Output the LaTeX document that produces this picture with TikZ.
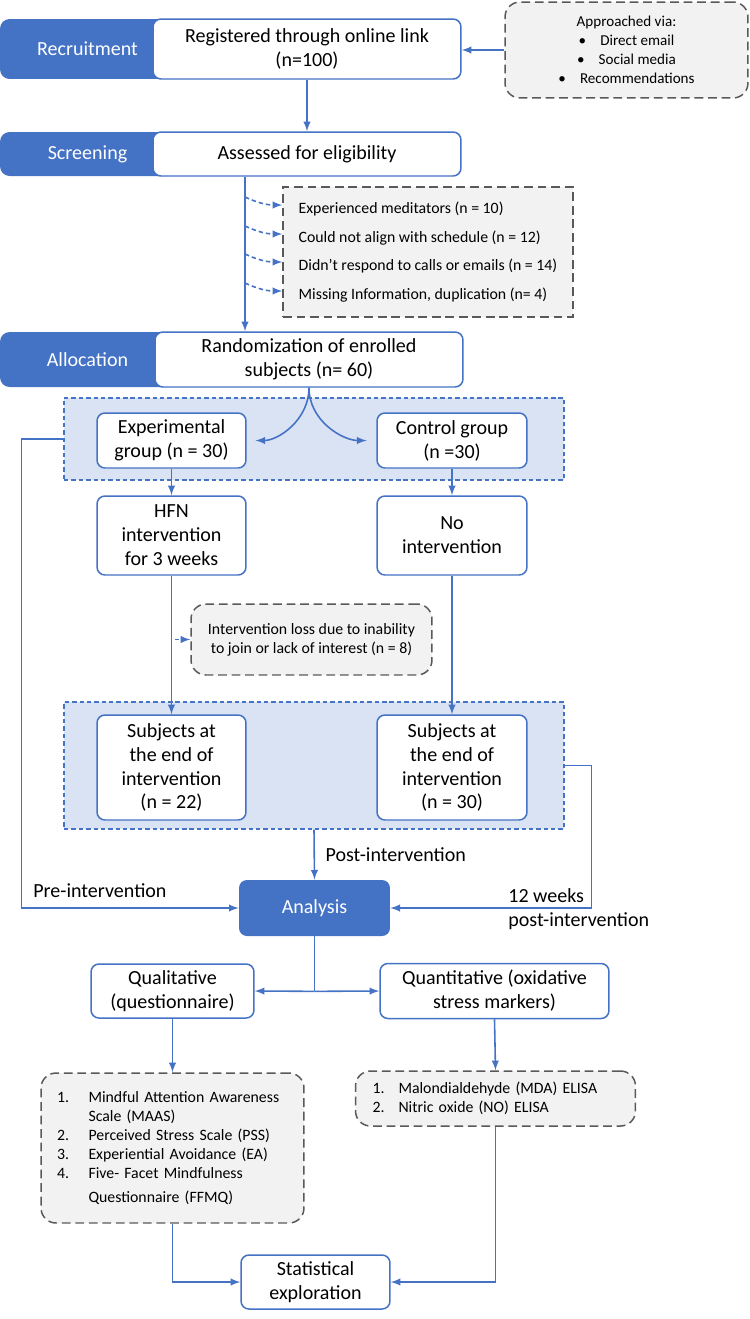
\documentclass[tikz,border=0pt]{standalone}
\usepackage{fontspec}
\setmainfont{Carlito}
\usepackage{xcolor}
\usepackage{tikz}
\usetikzlibrary{calc}

\definecolor{stageblue}{HTML}{4472C4}
\definecolor{groupfill}{HTML}{DAE3F3}
\definecolor{notefill}{HTML}{F2F2F2}
\definecolor{notedraw}{HTML}{595959}
\newcommand{\mainsize}{\fontsize{11.4}{13.6}\selectfont}
\newcommand{\notesize}{\fontsize{9}{10.8}\selectfont}

\tikzset{
    stagetab/.style={fill=stageblue,rounded corners=5.5pt,text=white,minimum width=3.5cm,inner sep=0pt,font=\mainsize},
    whitebox/.style={draw=stageblue,line width=0.85pt,fill=white,rounded corners=4.5pt,align=center,inner sep=0pt,font=\mainsize},
    bluebox/.style={fill=stageblue,rounded corners=4.5pt,text=white,inner sep=0pt,font=\mainsize},
    notebox/.style={draw=notedraw,line width=0.85pt,fill=notefill,rounded corners=8.5pt,dash pattern=on 5pt off 2.7pt,inner sep=0pt,font=\notesize},
    grpbox/.style={draw=stageblue,line width=0.8pt,fill=groupfill,dash pattern=on 2.5pt off 1.7pt,inner sep=0pt},
    flow/.style={draw=stageblue,line width=0.9pt,-latex},
    skipflow/.style={flow,dash pattern=on 2.5pt off 1.7pt},
    sidelabel/.style={font=\mainsize,inner sep=0pt,align=left}
}

\begin{document}
\begin{tikzpicture}[x=0.02cm,y=-0.02cm]
    \useasboundingbox (0,0) rectangle (750,1319);

    % groups
    \node[grpbox,minimum width=10cm,minimum height=1.64cm] (grpAlloc) at (314,439) {};
    \node[grpbox,minimum width=10cm,minimum height=2.54cm] (grpEnd) at (314,765.5) {};

    % stages
    \node[stagetab,minimum height=1.2cm] (recTab) at (87.5,49) {Recruitment};
    \node[whitebox,minimum width=6.16cm,minimum height=1.2cm] (recBox) at (307,49) {Registered through online link\\(n=100)};
    \node[stagetab,minimum height=0.88cm] (scrTab) at (87.5,154) {Screening};
    \node[whitebox,minimum width=6.16cm,minimum height=0.88cm] (scrBox) at (307,154) {Assessed for eligibility};
    \node[stagetab,minimum height=1.1cm] (allTab) at (87.5,359.5) {Allocation};
    \node[whitebox,minimum width=6.16cm,minimum height=1.1cm] (allBox) at (309,359.5) {Randomization of enrolled\\subjects (n= 60)};

    \node[notebox,minimum width=4.86cm,minimum height=1.92cm,rounded corners=8.5pt,align=center,font=\fontsize{8.6}{10.8}\selectfont] (approach) at (626.5,50)
        {Approached via:\\\textbullet\hspace{8pt}Direct email\\\textbullet\hspace{8pt}Social media\\\textbullet\hspace{8pt}Recommendations};
    \node[notebox,rounded corners=0pt,minimum width=5.8cm,minimum height=2.6cm,align=left,font=\fontsize{9}{16.3}\selectfont] (excl) at (428,252)
        {Experienced meditators (n = 10)\\Could not align with schedule (n = 12)\\Didn’t respond to calls or emails (n = 14)\\Missing Information, duplication (n= 4)};

    % arms
    \node[whitebox,minimum width=2.98cm,minimum height=1.1cm] (expBox) at (171.5,440.5) {Experimental\\group (n = 30)};
    \node[whitebox,minimum width=3cm,minimum height=1.1cm] (ctlBox) at (452,440.5) {Control group\\(n =30)};
    \node[whitebox,minimum width=2.98cm,minimum height=1.58cm] (hfn) at (171.5,535.5) {HFN\\intervention\\for 3 weeks};
    \node[whitebox,minimum width=3cm,minimum height=1.58cm] (noint) at (452,535.5) {No\\intervention};
    \node[notebox,minimum width=4.82cm,minimum height=1.42cm,align=center] (loss) at (311.5,639.5) {Intervention loss due to inability\\to join or lack of interest (n = 8)};
    \node[whitebox,minimum width=2.98cm,minimum height=2.1cm] (subE) at (171.5,767.5) {Subjects at\\the end of\\intervention\\(n = 22)};
    \node[whitebox,minimum width=3cm,minimum height=2.1cm] (subC) at (452,767.5) {Subjects at\\the end of\\intervention\\(n = 30)};

    % analysis
    \node[bluebox,minimum width=3.02cm,minimum height=1.12cm] (analysis) at (314.5,908) {Analysis};
    \node[whitebox,minimum width=3.26cm,minimum height=1.08cm] (qual) at (172.5,991) {Qualitative\\(questionnaire)};
    \node[whitebox,minimum width=4.58cm,minimum height=1.1cm] (quant) at (494.5,991) {Quantitative (oxidative\\stress markers)};
    \node[notebox,minimum width=5.26cm,minimum height=3cm,text width=4.62cm,inner xsep=0.32cm,align=left] (list1) at (172.5,1148)
        {\makebox[0.63cm][l]{1.}Mindful Attention Awareness\\\hspace*{0.63cm}Scale (MAAS)\\\makebox[0.63cm][l]{2.}Perceived Stress Scale (PSS)\\\makebox[0.63cm][l]{3.}Experiential Avoidance (EA)\\\makebox[0.63cm][l]{4.}Five- Facet Mindfulness\\[2.6pt]\hspace*{0.63cm}Questionnaire (FFMQ)};
    \node[notebox,minimum width=5.26cm,minimum height=1.1cm,text width=4.92cm,inner xsep=0.34cm,align=left] (list2) at (495.5,1098.5)
        {\makebox[0.52cm][l]{1.}Malondialdehyde (MDA) ELISA\\\makebox[0.52cm][l]{2.}Nitric oxide (NO) ELISA};
    \node[whitebox,minimum width=2.98cm,minimum height=1.08cm] (stat) at (315.5,1282) {Statistical\\exploration};

    % connectors
    \draw[flow] (approach.west) -- (approach.west -| recBox.east);
    \draw[flow] (recBox.south) -- (scrBox.north);
    \coordinate (scrOut) at ($(scrBox.south)+(-62,0)$);
    \draw[flow] (scrOut) -- (scrOut |- allBox.north);
    \foreach \dy [count=\i] in {-47,-18,10,39}{
        \coordinate (exIn\i) at ($(excl.west)+(0,\dy)$);
        \draw[skipflow] ($(scrOut |- exIn\i)+(0,-8)$) to[out=-25,in=180] (exIn\i);
    }
    \draw[flow,shorten >=5pt] (allBox.south) to[out=-90,in=0] (expBox.east);
    \draw[flow,shorten >=5.5pt] (allBox.south) to[out=-90,in=180] (ctlBox.west);
    \draw[flow] (expBox.south) -- (hfn.north);
    \draw[flow] (ctlBox.south) -- (noint.north);
    \draw[flow] (hfn.south) -- (subE.north);
    \draw[skipflow,shorten <=2pt] (loss.west -| hfn.south) -- (loss.west);
    \draw[flow] (noint.south) -- (subC.north);
    \draw[flow] (grpEnd.south) -- node[right=6pt,font=\mainsize,inner sep=0pt] {Post-intervention} (analysis.north);
    \draw[flow] (grpAlloc.west) -- ++(-42,0) |- (analysis.west);
    \draw[flow] (grpEnd.east) -- ++(27,0) |- (analysis.east);
    \node[sidelabel,anchor=west] (preLbl) at (33,891) {Pre-intervention};
    \node[sidelabel,anchor=west] (wkLbl) at (508,909) {12 weeks\\post-intervention};

    \draw[stageblue,line width=0.9pt] (analysis.south) -- ++(0,55) coordinate (split);
    \draw[flow] (split) -- (qual.east);
    \draw[flow] (split) -- (quant.west);
    \draw[flow] (qual.south) -- (list1.north);
    \draw[flow] (quant.south) -- (list2.north);
    \draw[flow] (list1.south) |- (stat.west);
    \draw[flow] (list2.south) |- (stat.east);
\end{tikzpicture}
\end{document}
